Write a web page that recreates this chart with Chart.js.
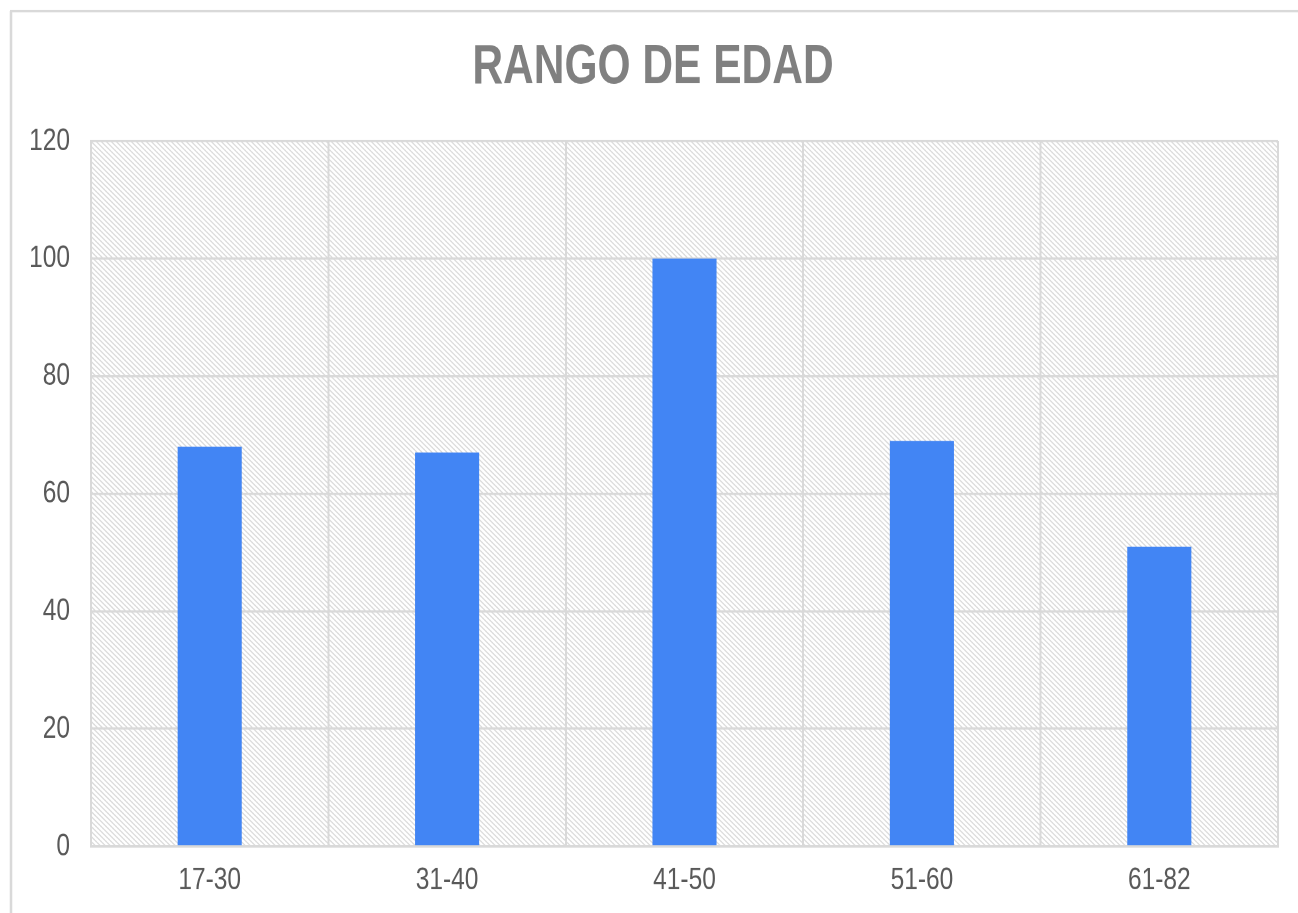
<!DOCTYPE html>
<html>
<head>
<meta charset="utf-8">
<title>Rango de edad</title>
<script src="https://cdn.jsdelivr.net/npm/chart.js@4/dist/chart.umd.min.js"></script>
<style>
    html { overflow: hidden; }
    body { margin: 0; padding: 0; background: #fff; width: 1298px; height: 913px; }
    /* the reference is stretched vertically, so the chart is drawn flat and scaled */
    #wrap { width: 1316px; height: 702px; transform: scaleY(1.3); transform-origin: 0 0; }
</style>
</head>
<body>
<div id="wrap"><canvas id="age-chart"></canvas></div>
<script>
// Chart data
const chartTitle = 'RANGO DE EDAD';
const categories = ['17-30', '31-40', '41-50', '51-60', '61-82'];
const counts = [68, 67, 100, 69, 51];
const yTicks = [0, 20, 40, 60, 80, 100, 120];

const STRETCH = 1.3;
const FONT = "'Liberation Sans', Arial, sans-serif";
const GRID = '#d9d9d9';

// Outer frame and hatched plot background
const backgroundPlugin = {
    id: 'background',
    beforeDraw(chart) {
        const ctx = chart.ctx;
        const a = chart.chartArea;
        ctx.save();

        // frame around the chart
        ctx.strokeStyle = GRID;
        ctx.lineWidth = 2;
        ctx.beginPath();
        ctx.moveTo(10, 8.5);
        ctx.lineTo(chart.width, 8.5);
        ctx.stroke();
        ctx.lineWidth = 2.5;
        ctx.beginPath();
        ctx.moveTo(11, 8.5);
        ctx.lineTo(11, chart.height);
        ctx.stroke();

        // diagonal hatch inside the plot area
        ctx.beginPath();
        ctx.rect(a.left, a.top, a.right - a.left, a.bottom - a.top);
        ctx.clip();
        const h = a.bottom - a.top;
        ctx.strokeStyle = '#dadada';
        ctx.lineWidth = 1.1;
        ctx.beginPath();
        for (let x = a.left - STRETCH * h; x < a.right; x += 5) {
            ctx.moveTo(x, a.top);
            ctx.lineTo(x + STRETCH * h, a.bottom);
        }
        ctx.stroke();
        ctx.restore();
    }
};

const ctx = document.getElementById('age-chart').getContext('2d');
const ageChart = new Chart(ctx, {
    type: 'bar',
    data: {
        labels: categories,
        datasets: [{
            data: counts,
            backgroundColor: '#4285f4',
            borderWidth: 0,
            barPercentage: 0.27,
            categoryPercentage: 1
        }]
    },
    options: {
        responsive: true,
        maintainAspectRatio: false,
        animation: false,
        devicePixelRatio: 2,
        layout: { padding: { left: 28, right: 38, top: 0, bottom: 0 } },
        scales: {
            x: {
                afterFit: (scale) => { scale.height = 51; },
                grid: { color: GRID, lineWidth: 2, drawTicks: false },
                border: { color: GRID, width: 2 },
                ticks: {
                    color: '#595959',
                    padding: 11.5,
                    font: { family: FONT, size: 24.5 }
                }
            },
            y: {
                min: yTicks[0],
                max: yTicks[yTicks.length - 1],
                afterFit: (scale) => { scale.width = 63; },
                grid: { color: GRID, lineWidth: 1.8, drawTicks: false },
                border: { color: GRID, width: 2 },
                ticks: {
                    stepSize: yTicks[1] - yTicks[0],
                    color: '#595959',
                    padding: 21,
                    font: { family: FONT, size: 24.5 }
                }
            }
        },
        plugins: {
            legend: { display: false },
            tooltip: { enabled: false },
            title: {
                display: true,
                text: chartTitle,
                color: '#808080',
                font: { family: FONT, size: 42.5, weight: 'bold' },
                padding: { top: 27, bottom: 30.5 }
            }
        }
    },
    plugins: [backgroundPlugin]
});
</script>
</body>
</html>
